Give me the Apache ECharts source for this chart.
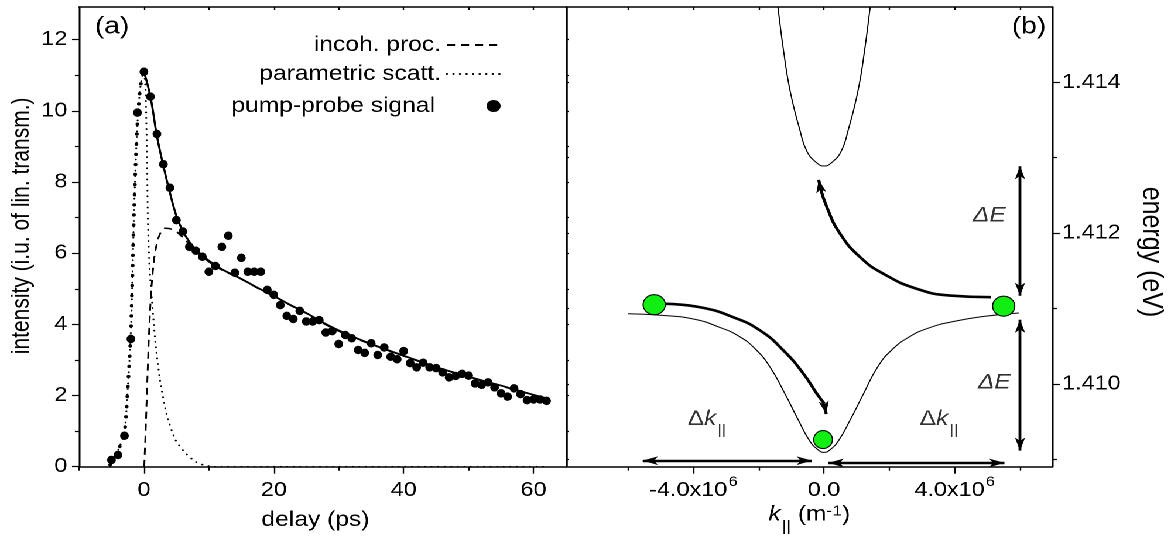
<!DOCTYPE html>
<html><head><meta charset="utf-8">
<script src="https://cdn.jsdelivr.net/npm/echarts@6/dist/echarts.min.js"></script>
<style>
html,body{margin:0;padding:0;background:#fff;overflow:hidden;}
#wrap{width:1171px;height:545px;overflow:hidden;background:#fff;}
#chart{width:1000px;height:545px;transform:scaleX(1.171);transform-origin:0 0;}
</style></head><body><div id="wrap"><div id="chart"></div></div>
<script>
// ---------- panel (a): pump-probe transient ----------
const delay = [-5,-4,-3,-2,-1,0,1,2,3,4,5,6,7,8,9,10,11,12,13,14,15,16,17,18,19,20,21,22,23,24,25,26,27,28,29,30,31,32,33,34,35,36,37,38,39,40,41,42,43,44,45,46,47,48,49,50,51,52,53,54,55,56,57,58,59,60,61,62];
const signal = [0.19,0.33,0.87,3.59,9.95,11.10,10.40,9.35,8.50,7.84,6.93,6.61,6.18,6.07,5.90,5.48,5.64,6.18,6.49,5.45,5.87,5.48,5.48,5.48,4.97,4.83,4.54,4.24,4.15,4.38,4.08,4.08,4.12,3.77,3.81,3.45,3.70,3.61,3.28,3.20,3.47,3.14,3.35,3.09,3.02,3.25,2.91,2.79,2.92,2.79,2.77,2.65,2.51,2.55,2.61,2.56,2.34,2.30,2.37,2.23,2.06,1.97,2.20,2.04,1.87,1.89,1.89,1.85];
const fitX = [0,1,2,3,4,5,6,7,8,10,12,15,17.5,20,22.5,25,27.5,30,32.5,35,37.5,40,42.5,45,47.5,50,52.5,55,58,62];
const fitY = [11.1,10.4,9.3,8.45,7.7,7.05,6.62,6.32,6.1,5.79,5.55,5.28,5.03,4.8,4.55,4.32,4.06,3.83,3.63,3.45,3.28,3.12,2.96,2.8,2.66,2.53,2.4,2.28,2.12,1.92];
const incohX = [0.05,0.3,0.5,0.9,1.3,1.8,2.5,3.3,4.6,5.9,7,8,10,12,15,17.5,20,22.5,25,27.5,30,32.5,35,37.5,40,42.5,45,47.5,50,52.5,55,58,62];
const incohY = [0,1.2,2.3,4.2,5.35,6.1,6.55,6.7,6.65,6.46,6.25,6.06,5.76,5.53,5.27,5.02,4.79,4.54,4.31,4.04,3.81,3.61,3.44,3.27,3.11,2.95,2.79,2.65,2.52,2.39,2.27,2.11,1.91];
const paramX = [-5.2,-5,-4,-3,-2.45,-2.05,-1.8,-1.55,-1.3,-1.03,-0.63,-0.3,0,0.25,0.35,0.5,0.6,0.86,1.27,1.78,2.55,3.58,4.86,6.4,7.94,9.5,11,62];
const paramY = [0.05,0.1,0.45,0.95,2.3,3.6,5.1,7.0,8.4,9.55,10.55,10.95,11.1,10.6,9.85,8.4,7.0,5.6,4.6,3.47,2.34,1.41,0.75,0.38,0.14,0.03,0,0];
const riseX = [-5.2,-5,-4,-3,-2.45,-2.05,-1.8,-1.55,-1.3,-1.03,-0.63,-0.3,0];
const riseY = [0.05,0.1,0.45,0.95,2.3,3.6,5.1,7.0,8.4,9.55,10.55,10.95,11.1];
const xMajorA = [0,20,40,60], xMinorA = [-10,10,30,50], xTopA = [0,10,20,30,40,50,60];
const yMajorA = [0,2,4,6,8,10,12], yMinorA = [1,3,5,7,9,11], yRightA = [1,2,3,4,5,6,7,8,9,10,11,12];

// ---------- panel (b): polariton dispersion ----------
const lpK = [-6.0e6,-5.0e6,-4.0e6,-3.2e6,-2.6e6,-2.1e6,-1.65e6,-1.2e6,-0.8e6,-0.45e6,-0.2e6,0,0.2e6,0.45e6,0.8e6,1.2e6,1.65e6,2.1e6,2.6e6,3.2e6,4.0e6,5.0e6,5.96e6];
const lpE = [1.41093,1.41091,1.41086,1.41075,1.41063,1.41046,1.41022,1.40987,1.40953,1.40925,1.40913,1.40909,1.40913,1.40925,1.40952,1.40986,1.41023,1.41046,1.41062,1.41074,1.41083,1.41090,1.41094];
const upK = [-1.47e6,-1.41e6,-1.24e6,-1.04e6,-0.735e6,-0.53e6,-0.245e6,0,0.245e6,0.53e6,0.735e6,1.04e6,1.24e6,1.41e6,1.47e6];
const upE = [1.4152,1.41499,1.41442,1.41389,1.41336,1.41309,1.41294,1.41289,1.41294,1.41309,1.41336,1.41389,1.41442,1.41499,1.4152];
const relaxK = [-4.866e6,-3.794e6,-2.774e6,-1.956e6,-1.242e6,-0.629e6,-0.218e6,0.005e6];
const relaxE = [1.411061,1.411016,1.410883,1.410707,1.410442,1.410133,1.409867,1.409739];
const exciteK = [5.112e6,3.865e6,2.845e6,1.822e6,1.108e6,0.495e6,0.088e6,-0.117e6];
const exciteE = [1.411149,1.411171,1.411260,1.411459,1.411679,1.411989,1.412342,1.412608];
const curveTips = [[[0.005e6,1.409739],[0.067e6,1.409599]], [[-0.117e6,1.412608],[-0.163e6,1.412707]]];
const gapArrows = [[[6.0e6,1.412886],[6.0e6,1.411168]], [[6.0e6,1.410850],[6.0e6,1.409113]],
                   [[-5.552e6,1.40898],[-0.371e6,1.40898]], [[0.133e6,1.40895],[5.523e6,1.40895]]];
const dotK = [-5.20e6, 5.50e6, -0.03e6];
const dotE = [1.41105, 1.41103, 1.40926];
const noteText = ['{e|ΔE}', '{e|ΔE}', '{d|Δ}{k|k}{s|||}', '{d|Δ}{k|k}{s|||}'];
const noteK = [5.06e6, 5.213e6, -3.589e6, 3.517e6];
const noteE = [1.412232, 1.410015, 1.409530, 1.409530];
const xMajorB = [-4e6,0,4e6], xMinorB = [-6e6,-2e6,2e6,6e6], xTopB = [-6e6,-4e6,-2e6,0,2e6,4e6,6e6];
const yMajorB = [1.410,1.412,1.414], yMinorB = [1.409,1.411,1.413], yLeftB = [1.409,1.410,1.411,1.412,1.413,1.414];

const FF = '"Liberation Sans", Arial, Helvetica, sans-serif';
const K = '#000';
const pairs = (xs, ys) => xs.map((x, i) => [x, ys[i]]);

function ax(o) {
  const base = {
    type: 'value', splitLine: {show: false}, nameMoveOverlap: false,
    axisLine: {show: false, onZero: false, lineStyle: {color: K, width: 1.5}},
    axisTick: {show: false, lineStyle: {color: K, width: 1.2}},
    axisLabel: {show: false, color: K, fontFamily: FF, fontSize: 20, lineHeight: 20}
  };
  const r = Object.assign({}, base, o);
  r.axisLine = Object.assign({}, base.axisLine, o.axisLine || {});
  r.axisTick = Object.assign({}, base.axisTick, o.axisTick || {});
  r.axisLabel = Object.assign({}, base.axisLabel, o.axisLabel || {});
  return r;
}
const A = {min: -10, max: 65}, YA = {min: 0, max: 12.92};
const B = {min: -7.9e6, max: 7.0e6}, YB = {min: 1.4089, max: 1.415};
const legendText = {fontSize: 21, lineHeight: 24, color: K, fontFamily: FF};
const hideSym = {opacity: 0, color: 'rgba(0,0,0,0)', borderWidth: 0};

const option = {
  animation: false,
  backgroundColor: '#fff',
  textStyle: {fontFamily: FF, color: K},
  title: [
    {text: '(a)', left: 81, top: 15, padding: 0, textStyle: {fontSize: 24, fontWeight: 'normal', color: K, fontFamily: FF}},
    {text: '(b)', left: 864, top: 15, padding: 0, textStyle: {fontSize: 24, fontWeight: 'normal', color: K, fontFamily: FF}}
  ],
  legend: [
    {data: ['incoh. proc.'], right: 570.4, top: 33, padding: 0, align: 'right', itemWidth: 47, itemHeight: 14, selectedMode: false,
     itemStyle: hideSym, textStyle: legendText},
    {data: ['parametric scatt.'], right: 570.4, top: 62, padding: 0, align: 'right', itemWidth: 47, itemHeight: 14, selectedMode: false,
     itemStyle: hideSym, textStyle: legendText},
    {data: [{name: 'pump-probe signal', icon: 'circle'}], right: 572.5, top: 94, padding: 0, align: 'right', itemWidth: 12, itemHeight: 15,
     selectedMode: false, symbolKeepAspect: false, textStyle: Object.assign({}, legendText, {padding: [0, 39, 0, 0]})}
  ],
  grid: [
    {left: 67.46, top: 7, width: 415.9, height: 459.7, outerBoundsMode: 'none', containLabel: false},
    {left: 483.36, top: 7, width: 415.6, height: 459.7, outerBoundsMode: 'none', containLabel: false},
    // holder for the right-hand axis title, centred where the original places it
    {left: 483.36, top: 52, width: 415.6, height: 400, outerBoundsMode: 'none', containLabel: false}
  ],
  xAxis: [
    ax(Object.assign({gridIndex: 0, position: 'bottom', name: 'delay (ps)', nameLocation: 'middle', nameGap: 43,
      nameTextStyle: {fontSize: 21, color: K, fontFamily: FF, padding: [0, 12, 0, 0]},
      axisLine: {show: true}, axisTick: {show: true, customValues: xMajorA, length: 7},
      axisLabel: {show: true, customValues: xMajorA, margin: 14}}, A)),
    ax(Object.assign({gridIndex: 0, position: 'bottom', axisTick: {show: true, customValues: xMinorA, length: 4}}, A)),
    ax(Object.assign({gridIndex: 0, position: 'top', axisLine: {show: true}, axisTick: {show: true, inside: true, customValues: xTopA, length: 3}}, A)),
    ax(Object.assign({gridIndex: 1, position: 'bottom', name: '{i|k}{sub|||}{t| (m}{sup|-1}{t|)}', nameLocation: 'middle', nameGap: 36,
      nameTextStyle: {fontSize: 21, color: K, fontFamily: FF, rich: {
        i: {fontSize: 21, fontStyle: 'italic', lineHeight: 24, fontFamily: FF, color: K},
        t: {fontSize: 21, lineHeight: 24, fontFamily: FF, color: K},
        sub: {fontSize: 15, lineHeight: 14, padding: [24, 0, 0, 1], fontFamily: FF, color: K},
        sup: {fontSize: 15, lineHeight: 14, padding: [0, 0, 7, 0], fontFamily: FF, color: K}}},
      axisLine: {show: true}, axisTick: {show: true, customValues: xMajorB, length: 7},
      axisLabel: {show: true, customValues: xMajorB, margin: 14,
        formatter: v => Math.abs(v) < 1 ? '0.0' : '{n|' + (v / 1e6).toFixed(1) + 'x10}{s|6}',
        rich: {n: {fontSize: 20, lineHeight: 20, fontFamily: FF, color: K},
               s: {fontSize: 14, lineHeight: 14, padding: [0, 0, 17, 1], fontFamily: FF, color: K}}}}, B)),
    ax(Object.assign({gridIndex: 1, position: 'bottom', axisTick: {show: true, customValues: xMinorB, length: 4}}, B)),
    ax(Object.assign({gridIndex: 1, position: 'top', axisLine: {show: true}, axisTick: {show: true, inside: true, customValues: xTopB, length: 3}}, B)),
    ax(Object.assign({gridIndex: 2, position: 'bottom'}, B))
  ],
  yAxis: [
    ax(Object.assign({gridIndex: 0, position: 'left', name: 'intensity (i.u. of lin. transm.)', nameLocation: 'middle', nameGap: 38.5,
      nameTextStyle: {fontSize: 21, color: K, fontFamily: FF, padding: [0, 0, 0, 22]},
      axisLine: {show: true}, axisTick: {show: true, customValues: yMajorA, length: 6},
      axisLabel: {show: true, customValues: yMajorA, margin: 10}}, YA)),
    ax(Object.assign({gridIndex: 0, position: 'left', axisTick: {show: true, customValues: yMinorA, length: 3.5}}, YA)),
    ax(Object.assign({gridIndex: 0, position: 'right', axisLine: {show: true}, axisTick: {show: true, customValues: yRightA, length: 2.5}}, YA)),
    ax(Object.assign({gridIndex: 1, position: 'right',
      axisLine: {show: true}, axisTick: {show: true, customValues: yMajorB, length: 6},
      axisLabel: {show: true, customValues: yMajorB, margin: 8, formatter: v => v.toFixed(3)}}, YB)),
    ax(Object.assign({gridIndex: 1, position: 'right', axisTick: {show: true, customValues: yMinorB, length: 3.5}}, YB)),
    ax(Object.assign({gridIndex: 1, position: 'left', axisLine: {show: true}, axisTick: {show: true, inside: true, customValues: yLeftB, length: 2.5}}, YB)),
    ax(Object.assign({gridIndex: 2, position: 'right', name: 'energy (eV)', nameLocation: 'middle', nameGap: 71.5, nameRotate: -90,
      nameTextStyle: {fontSize: 25, color: K, fontFamily: FF}}, YB))
  ],
  series: [
    {name: 'parametric scatt.', type: 'line', xAxisIndex: 0, yAxisIndex: 0, data: pairs(paramX, paramY), symbol: 'none', smooth: 0.2,
     lineStyle: {color: K, width: 1.7, type: [0.1, 5.5], cap: 'round'}, itemStyle: {color: K}, silent: true, z: 2},
    {name: 'rise', type: 'line', xAxisIndex: 0, yAxisIndex: 0, data: pairs(riseX, riseY), symbol: 'none', smooth: 0.2,
     lineStyle: {color: K, width: 3.2, type: [0.1, 10], cap: 'round'}, silent: true, z: 2},
    {name: 'incoh. proc.', type: 'line', xAxisIndex: 0, yAxisIndex: 0, data: pairs(incohX, incohY), symbol: 'none', smooth: 0.4,
     lineStyle: {color: K, width: 1.5, type: [7, 5]}, itemStyle: {color: K}, silent: true, z: 2},
    {name: 'fit', type: 'line', xAxisIndex: 0, yAxisIndex: 0, data: pairs(fitX, fitY), symbol: 'none', smooth: 0.4,
     lineStyle: {color: K, width: 1.8}, silent: true, z: 3},
    {name: 'pump-probe signal', type: 'scatter', xAxisIndex: 0, yAxisIndex: 0, data: pairs(delay, signal), symbol: 'circle',
     symbolSize: [7.5, 8.5], itemStyle: {color: K, opacity: 1}, silent: true, z: 4},

    {name: 'lower polariton', type: 'line', xAxisIndex: 3, yAxisIndex: 3, data: pairs(lpK, lpE), symbol: 'none', smooth: 0.5,
     lineStyle: {color: K, width: 1}, silent: true, z: 2},
    {name: 'upper polariton', type: 'line', xAxisIndex: 3, yAxisIndex: 3, data: pairs(upK, upE), symbol: 'none', smooth: 0.5,
     lineStyle: {color: K, width: 1}, silent: true, z: 2},
    {name: 'relaxation', type: 'line', xAxisIndex: 3, yAxisIndex: 3, data: pairs(relaxK, relaxE), symbol: 'none', smooth: 0.5,
     lineStyle: {color: K, width: 2.6}, silent: true, z: 3},
    {name: 'excitation', type: 'line', xAxisIndex: 3, yAxisIndex: 3, data: pairs(exciteK, exciteE), symbol: 'none', smooth: 0.5,
     lineStyle: {color: K, width: 2.6}, silent: true, z: 3},
    {name: 'tips', type: 'lines', coordinateSystem: 'cartesian2d', xAxisIndex: 3, yAxisIndex: 3, symbol: ['none', 'arrow'],
     symbolSize: [[6.5, 13], [6.5, 13]], lineStyle: {color: K, width: 2.6, opacity: 1},
     data: curveTips.map(c => ({coords: c})), silent: true, z: 3},
    {name: 'gaps', type: 'lines', coordinateSystem: 'cartesian2d', xAxisIndex: 3, yAxisIndex: 3, symbol: ['arrow', 'arrow'],
     symbolSize: [[6.5, 13], [6.5, 13]], lineStyle: {color: K, width: 2.4, opacity: 1},
     data: gapArrows.map(c => ({coords: c})), silent: true, z: 3},
    {name: 'populations', type: 'scatter', xAxisIndex: 3, yAxisIndex: 3,
     data: dotK.map((k, i) => ({value: [k, dotE[i]], symbolSize: i < 2 ? [19, 20] : [16, 18]})),
     symbol: 'circle', itemStyle: {color: '#11ee11', borderColor: K, borderWidth: 1, opacity: 1}, silent: true, z: 5},
    {name: 'notes', type: 'scatter', xAxisIndex: 3, yAxisIndex: 3, symbol: 'circle', symbolSize: 0.1,
     itemStyle: {color: 'rgba(0,0,0,0)'}, silent: true, z: 6,
     data: noteK.map((k, i) => ({value: [k, noteE[i]], label: {formatter: noteText[i]}})),
     label: {show: true, position: 'inside', align: 'center', verticalAlign: 'middle', color: K,
       rich: {e: {fontSize: 21, fontStyle: 'italic', fontFamily: FF, color: K, lineHeight: 24},
              d: {fontSize: 21, fontFamily: FF, color: K, lineHeight: 24},
              k: {fontSize: 21, fontStyle: 'italic', fontFamily: FF, color: K, lineHeight: 24},
              s: {fontSize: 14, lineHeight: 14, padding: [22, 0, 0, 1], fontFamily: FF, color: K}}}}
  ]
};
const chart = echarts.init(document.getElementById('chart'), null, {renderer: 'canvas', devicePixelRatio: 2});
chart.setOption(option);
</script></body></html>
